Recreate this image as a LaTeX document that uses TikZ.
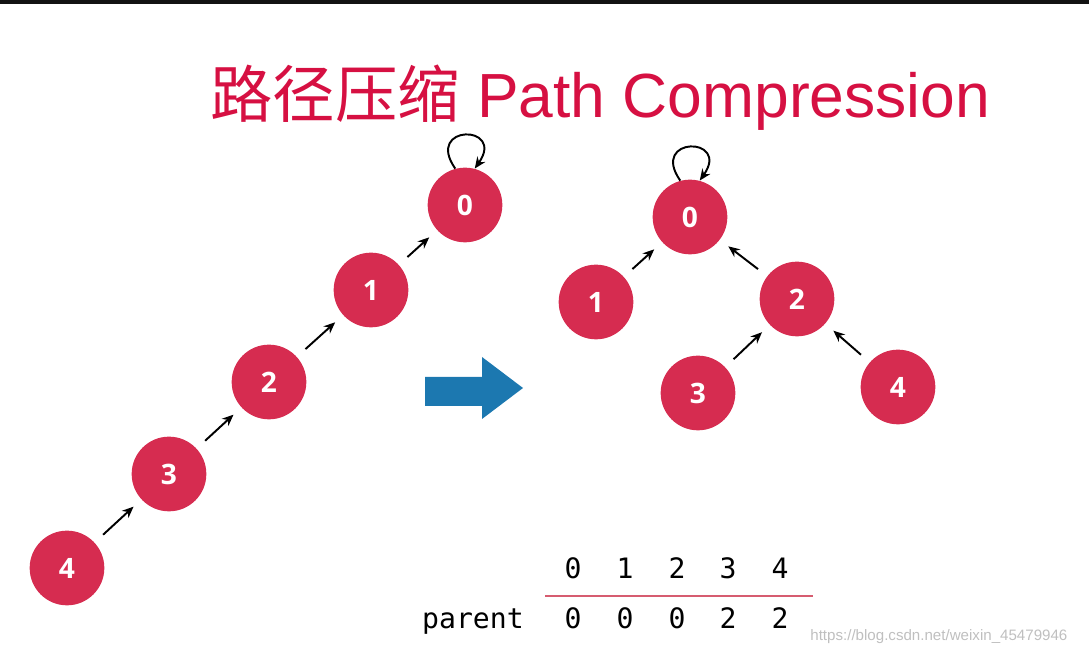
\documentclass[tikz,border=0pt]{standalone}
\usepackage{fontspec}
\usepackage{tikz}
\usetikzlibrary{arrows.meta,positioning,calc}
\newfontfamily\titlefont{Liberation Sans}
\newfontfamily\cjkfont{Noto Sans CJK SC}
\newfontfamily\labelfont{Open Sans}
\newfontfamily\tablefont{DejaVu Sans Mono}
\newfontfamily\markfont{Liberation Sans}
\definecolor{nodered}{RGB}{214,44,80}
\definecolor{titlered}{RGB}{214,16,66}
\definecolor{rulered}{RGB}{214,92,112}
\definecolor{flowblue}{RGB}{28,120,176}
\tikzset{
  ufnode/.style={circle,fill=nodered,minimum size=42.5pt,inner sep=0pt,
    text=white,font=\labelfont\bfseries\fontsize{16}{18}\selectfont},
  link/.style={-{Stealth[length=6.5pt,width=5.5pt]},line width=1.1pt,
    shorten <=6.5pt,shorten >=6pt},
  selfloop/.style={-{Stealth[length=6.5pt,width=5.5pt]},line width=1.1pt},
  cell/.style={font=\tablefont\fontsize{16}{18}\selectfont,inner sep=0pt,anchor=base},
}
\begin{document}
\begin{tikzpicture}[x=0.02cm,y=-0.02cm]
  \useasboundingbox (0,0) rectangle (1089,661);
  \fill[black!93] (0,0) rectangle (1089,4);
  % title
  \node[anchor=base west,inner sep=0pt,text=titlered] (title) at (210,118)
    {\fontsize{35.5}{40}\selectfont\cjkfont 路径压缩\titlefont{} Path Compression};
  % before: a long chain
  \foreach \n/\x/\y in {0/465/205,1/371/290,2/269/382,3/169/474,4/67/568}
    \node[ufnode] (L\n) at (\x,\y) {\n};
  \draw[link] (L4) -- (L3);
  \draw[link] (L3) -- (L2);
  \draw[link] (L2) -- (L1);
  \draw[link] (L1) -- (L0);
  \draw[selfloop] (L0.105) .. controls +(125:31pt) and +(55:31pt) .. (L0.75);
  % the big arrow
  \fill[flowblue] (425,377) -- (482,377) -- (482,357) -- (523,388)
    -- (482,419) -- (482,406) -- (425,406) -- cycle;
  % after: compressed tree
  \foreach \n/\x/\y in {0/690/217,1/596/302,2/797/299,3/698/393,4/898/387}
    \node[ufnode] (R\n) at (\x,\y) {\n};
  \draw[link] (R1) -- (R0);
  \draw[link] (R2) -- (R0);
  \draw[link] (R3) -- (R2);
  \draw[link] (R4) -- (R2);
  \draw[selfloop] (R0.105) .. controls +(125:31pt) and +(55:31pt) .. (R0.75);
  % parent array
  \foreach \i/\x/\p in {0/573/0,1/625/0,2/677/0,3/728/2,4/780/2}{
    \node[cell] (h\i) at (\x,579) {\i};
    \node[cell] (p\i) at (\x,629) {\p};
  }
  \node[cell] (parent) at (473,629) {parent};
  \coordinate (ruleL) at (545,596);
  \coordinate (ruleR) at (813,596);
  \draw[rulered,line width=1.7pt] (ruleL) -- (ruleR);
  \node[anchor=west,inner sep=0pt,text=black!25,font=\markfont\fontsize{8.6}{10}\selectfont]
    (mark) at (810,637) {https://blog.csdn.net/weixin\_45479946};
\end{tikzpicture}
\end{document}
